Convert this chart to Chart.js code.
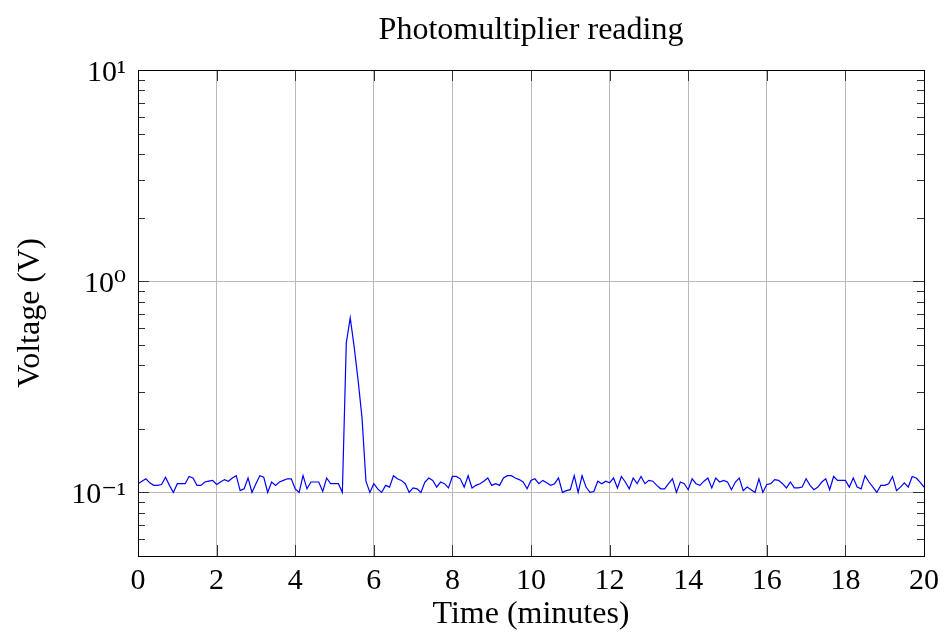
<!DOCTYPE html>
<html>

<head>
    <meta charset="UTF-8">
    <script src="https://cdn.jsdelivr.net/npm/chart.js@4.4.0/dist/chart.umd.min.js"></script>
    <style>
        body { margin: 0; background: #fff; }
    </style>
</head>

<body>
    <canvas id="myChart" width="946" height="636"></canvas>
    <script>
        // time axis (minutes)
        const times = [
            0, 0.1, 0.2, 0.3, 0.4, 0.5, 0.6, 0.7, 0.8, 0.9,
            1, 1.1, 1.2, 1.3, 1.4, 1.5, 1.6, 1.7, 1.8, 1.9,
            2, 2.1, 2.2, 2.3, 2.4, 2.5, 2.6, 2.7, 2.8, 2.9,
            3, 3.1, 3.2, 3.3, 3.4, 3.5, 3.6, 3.7, 3.8, 3.9,
            4, 4.1, 4.2, 4.3, 4.4, 4.5, 4.6, 4.7, 4.8, 4.9,
            5, 5.1, 5.2, 5.3, 5.4, 5.5, 5.6, 5.7, 5.8, 5.9,
            6, 6.1, 6.2, 6.3, 6.4, 6.5, 6.6, 6.7, 6.8, 6.9,
            7, 7.1, 7.2, 7.3, 7.4, 7.5, 7.6, 7.7, 7.8, 7.9,
            8, 8.1, 8.2, 8.3, 8.4, 8.5, 8.6, 8.7, 8.8, 8.9,
            9, 9.1, 9.2, 9.3, 9.4, 9.5, 9.6, 9.7, 9.8, 9.9,
            10, 10.1, 10.2, 10.3, 10.4, 10.5, 10.6, 10.7, 10.8, 10.9,
            11, 11.1, 11.2, 11.3, 11.4, 11.5, 11.6, 11.7, 11.8, 11.9,
            12, 12.1, 12.2, 12.3, 12.4, 12.5, 12.6, 12.7, 12.8, 12.9,
            13, 13.1, 13.2, 13.3, 13.4, 13.5, 13.6, 13.7, 13.8, 13.9,
            14, 14.1, 14.2, 14.3, 14.4, 14.5, 14.6, 14.7, 14.8, 14.9,
            15, 15.1, 15.2, 15.3, 15.4, 15.5, 15.6, 15.7, 15.8, 15.9,
            16, 16.1, 16.2, 16.3, 16.4, 16.5, 16.6, 16.7, 16.8, 16.9,
            17, 17.1, 17.2, 17.3, 17.4, 17.5, 17.6, 17.7, 17.8, 17.9,
            18, 18.1, 18.2, 18.3, 18.4, 18.5, 18.6, 18.7, 18.8, 18.9,
            19, 19.1, 19.2, 19.3, 19.4, 19.5, 19.6, 19.7, 19.8, 19.9,
            20
        ];

        // photomultiplier voltage (V)
        const voltage = [
            0.110, 0.113, 0.116, 0.111, 0.108, 0.108, 0.109, 0.118, 0.108, 0.100,
            0.110, 0.110, 0.110, 0.119, 0.117, 0.108, 0.108, 0.112, 0.113, 0.114,
            0.109, 0.112, 0.115, 0.113, 0.117, 0.120, 0.102, 0.104, 0.117, 0.100,
            0.110, 0.120, 0.118, 0.100, 0.112, 0.108, 0.112, 0.114, 0.116, 0.116,
            0.104, 0.100, 0.120, 0.104, 0.112, 0.112, 0.112, 0.101, 0.117, 0.110,
            0.110, 0.110, 0.100, 0.510, 0.670, 0.490, 0.340, 0.226, 0.113, 0.100,
            0.110, 0.104, 0.100, 0.108, 0.106, 0.120, 0.116, 0.114, 0.110, 0.100,
            0.105, 0.104, 0.100, 0.112, 0.117, 0.114, 0.106, 0.112, 0.110, 0.105,
            0.119, 0.119, 0.116, 0.106, 0.120, 0.105, 0.108, 0.110, 0.113, 0.117,
            0.108, 0.110, 0.108, 0.117, 0.120, 0.120, 0.117, 0.115, 0.112, 0.104,
            0.114, 0.116, 0.110, 0.114, 0.111, 0.108, 0.110, 0.117, 0.100, 0.102,
            0.103, 0.120, 0.100, 0.120, 0.106, 0.100, 0.101, 0.113, 0.110, 0.113,
            0.111, 0.117, 0.105, 0.119, 0.112, 0.104, 0.117, 0.110, 0.119, 0.110,
            0.114, 0.113, 0.108, 0.104, 0.104, 0.110, 0.116, 0.100, 0.112, 0.110,
            0.103, 0.116, 0.110, 0.108, 0.113, 0.117, 0.105, 0.117, 0.112, 0.114,
            0.112, 0.103, 0.112, 0.117, 0.102, 0.106, 0.103, 0.100, 0.116, 0.100,
            0.109, 0.110, 0.115, 0.114, 0.110, 0.105, 0.112, 0.105, 0.105, 0.106,
            0.116, 0.108, 0.103, 0.106, 0.112, 0.116, 0.103, 0.119, 0.114, 0.114,
            0.114, 0.106, 0.117, 0.106, 0.104, 0.120, 0.112, 0.106, 0.100, 0.108,
            0.108, 0.110, 0.119, 0.102, 0.106, 0.111, 0.106, 0.119, 0.117, 0.112,
            0.106
        ];

        const xTicks = [0, 2, 4, 6, 8, 10, 12, 14, 16, 18, 20];
        const yTicks = [0.1, 1, 10];
        const yTickLabels = ['10\u207B\u00B9', '10\u2070', '10\u00B9'];

        const serif = "'Liberation Serif', 'DejaVu Serif', serif";
        const gridGrey = 'rgb(185,185,185)';

        // box and inward tick marks, pgfplots style
        const framePlugin = {
            id: 'frame',
            afterDatasetsDraw(chart) {
                const { ctx, chartArea: a, scales } = chart;
                const xs = scales.x, ys = scales.y;
                ctx.save();
                ctx.strokeStyle = '#333';
                ctx.lineWidth = 1;
                ctx.beginPath();
                xTicks.forEach(v => {
                    const px = Math.round(xs.getPixelForValue(v)) + 0.5;
                    ctx.moveTo(px, a.bottom); ctx.lineTo(px, a.bottom - 11);
                    ctx.moveTo(px, a.top); ctx.lineTo(px, a.top + 11);
                });
                yTicks.forEach(v => {
                    const py = Math.round(ys.getPixelForValue(v)) + 0.5;
                    ctx.moveTo(a.left, py); ctx.lineTo(a.left + 11, py);
                    ctx.moveTo(a.right, py); ctx.lineTo(a.right - 11, py);
                });
                [0.01, 0.1, 1].forEach(dec => {
                    for (let m = 2; m <= 9; m++) {
                        const v = dec * m;
                        if (v < ys.min || v > ys.max) continue;
                        const py = Math.round(ys.getPixelForValue(v)) + 0.5;
                        ctx.moveTo(a.left, py); ctx.lineTo(a.left + 7, py);
                        ctx.moveTo(a.right, py); ctx.lineTo(a.right - 7, py);
                    }
                });
                ctx.stroke();
                ctx.strokeStyle = '#000';
                ctx.strokeRect(Math.round(a.left) + 0.5, Math.round(a.top) + 0.5,
                    Math.round(a.right - a.left), Math.round(a.bottom - a.top));
                ctx.restore();
            }
        };

        const ctx = document.getElementById('myChart').getContext('2d');
        const chart = new Chart(ctx, {
            type: 'line',
            data: {
                datasets: [{
                    data: times.map((t, i) => ({ x: t, y: voltage[i] })),
                    borderColor: '#0000ff',
                    borderWidth: 1.2,
                    pointRadius: 0,
                    tension: 0,
                    fill: false
                }]
            },
            options: {
                responsive: false,
                animation: false,
                layout: { padding: { left: 0, right: 19, top: 0, bottom: 0 } },
                plugins: {
                    legend: { display: false },
                    tooltip: { enabled: false },
                    title: {
                        display: true,
                        fullSize: false,
                        text: 'Photomultiplier reading',
                        color: '#000',
                        font: { family: serif, size: 32, weight: 'normal', lineHeight: 1.2 },
                        padding: { top: 11, bottom: 20.6 }
                    }
                },
                scales: {
                    x: {
                        type: 'linear',
                        min: 0,
                        max: 20,
                        afterFit: s => { s.height = 80; },
                        afterBuildTicks: s => { s.ticks = xTicks.map(v => ({ value: v })); },
                        border: { display: false },
                        grid: { color: gridGrey, lineWidth: 1, drawTicks: false },
                        ticks: {
                            color: '#000',
                            padding: 7,
                            maxRotation: 0,
                            font: { family: serif, size: 30 }
                        },
                        title: {
                            display: true,
                            text: 'Time (minutes)',
                            color: '#000',
                            font: { family: serif, size: 32, lineHeight: 1.2 },
                            padding: { top: 0, bottom: 2 }
                        }
                    },
                    y: {
                        type: 'logarithmic',
                        min: 0.05,
                        max: 10,
                        afterFit: s => { s.width = 138; },
                        afterBuildTicks: s => { s.ticks = yTicks.map(v => ({ value: v })); },
                        border: { display: false },
                        grid: { color: gridGrey, lineWidth: 1, drawTicks: false },
                        ticks: {
                            color: '#000',
                            padding: 12,
                            labelOffset: 3,
                            font: { family: serif, size: 30 },
                            callback: (v) => {
                                const i = yTicks.findIndex(t => Math.abs(t - v) < 1e-9);
                                return i >= 0 ? yTickLabels[i] : '';
                            }
                        },
                        title: {
                            display: true,
                            text: 'Voltage (V)',
                            color: '#000',
                            font: { family: serif, size: 32, lineHeight: 1.2 },
                            padding: { top: 11, bottom: 0 }
                        }
                    }
                }
            },
            plugins: [framePlugin]
        });
    </script>
</body>

</html>
